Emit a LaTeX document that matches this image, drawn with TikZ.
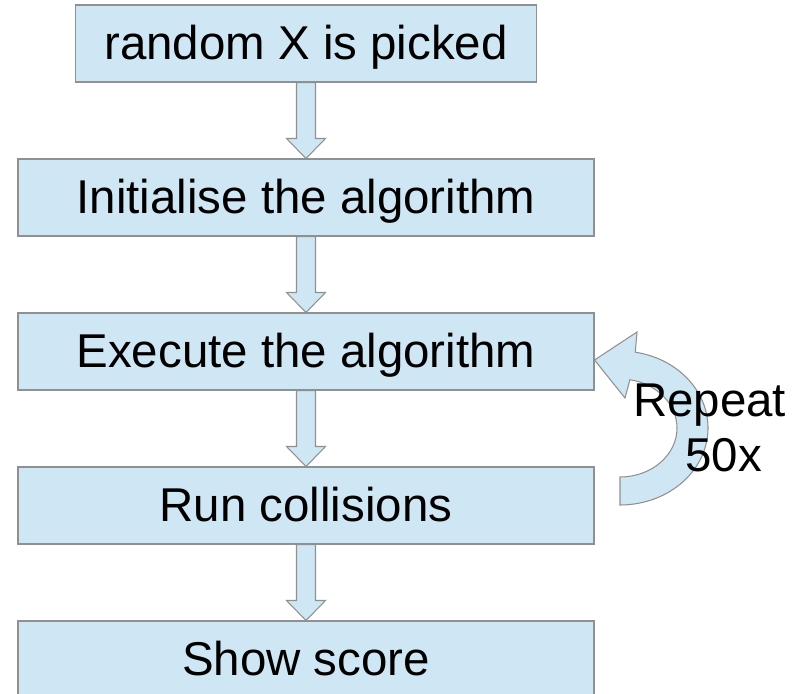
\documentclass[tikz,border=0pt]{standalone}
\usepackage{fontspec}
\setmainfont{Liberation Sans}
\usetikzlibrary{calc}
\definecolor{boxFill}{HTML}{CFE6F4}
\definecolor{boxLine}{HTML}{909090}
\newcommand{\blockdown}[2]{% block arrow from node A down to node B
  \draw[flowarrow] ($(#1.south)+(-0.19,0)$) -- ($(#2.north)+(-0.19,0.4)$)
    -- ($(#2.north)+(-0.39,0.4)$) -- (#2.north) -- ($(#2.north)+(0.39,0.4)$)
    -- ($(#2.north)+(0.19,0.4)$) -- ($(#1.south)+(0.19,0)$) -- cycle;
}

\begin{document}
\begin{tikzpicture}[
  stepbox/.style={draw=boxLine, fill=boxFill, line width=0.6pt,
    minimum height=1.54cm, text height=21.6pt, text depth=3pt, inner sep=0pt},
  flowarrow/.style={draw=boxLine, fill=boxFill, line width=0.6pt},
  looptext/.style={anchor=base, inner sep=0pt},
  font=\fontsize{27}{31}\selectfont]
  \useasboundingbox (0,0) rectangle (16.04,-13.88);

  % the five steps, top to bottom
  \foreach \n/\w/\txt [count=\i from 0] in {pick/9.22/random X is picked,
      init/11.52/Initialise the algorithm, exec/11.52/Execute the algorithm,
      coll/11.52/Run collisions, score/11.52/Show score} {
    \node[stepbox, minimum width=\w cm] (\n) at (6.12, {-0.87 - 3.08*\i}) {\txt};
  }

  % block arrows between the steps
  \foreach \a/\b in {pick/init, init/exec, exec/coll, coll/score} {
    \blockdown{\a}{\b}
  }

  % loop arrow beside the execute step
  \coordinate (loopC) at (12.4,-8.56);
  \draw[flowarrow] ($(loopC)+(0,-0.98)$)
      arc[start angle=-90, end angle=80, x radius=1.14, y radius=0.98]
    -- (12.5,-7.96) -- ([yshift=-0.17cm]exec.east) -- (12.74,-6.64)
    -- ($(loopC)+({1.76*cos(80)},{1.54*sin(80)})$)
      arc[start angle=80, end angle=-90, x radius=1.76, y radius=1.54] -- cycle;
  \node[looptext] (rep) at (14.19,-8.32) {Repeat};
  \node[looptext] (times) at (14.47,-9.42) {50x};
\end{tikzpicture}
\end{document}
